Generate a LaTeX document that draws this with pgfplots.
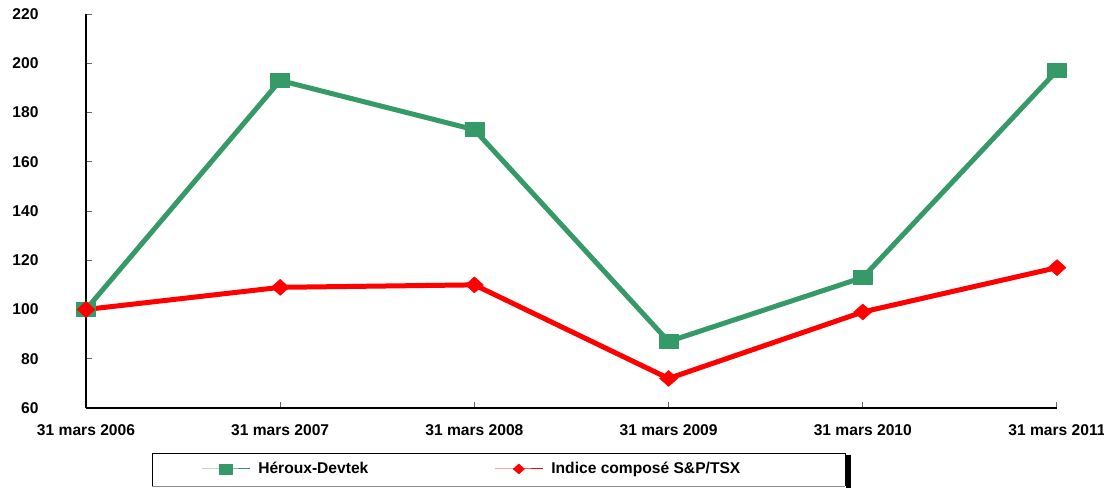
\documentclass[border=0pt]{standalone}
\usepackage{pgfplots}
\pgfplotsset{compat=1.18}
\usepackage{fontspec}
\setmainfont{Liberation Sans}
\definecolor{hgreen}{RGB}{53,153,104}
\begin{document}
\begin{tikzpicture}
\begin{axis}[
  name=main,
  at={(0pt,0pt)}, anchor=south west,
  scale only axis, width=971pt, height=394pt,
  xmin=0, xmax=5, ymin=60, ymax=220,
  axis lines=left, axis line style={-, line width=1.2pt, black},
  xtick={0,...,5},
  xticklabels={31 mars 2006,31 mars 2007,31 mars 2008,31 mars 2009,31 mars 2010,31 mars 2011},
  ytick={60,80,...,220},
  tick align=inside, major tick length=6pt,
  tick style={black!60, line width=1pt},
  ticklabel style={font=\fontsize{15.6}{19}\selectfont\bfseries},
  /pgf/number format/assume math mode=true,
  yticklabel style={xshift=-44pt},
  xticklabel style={yshift=-13pt},
  clip=false,
  legend columns=2,
  legend style={draw=none, fill=none, at={(rel axis cs:0.1185,-0.1548)}, anchor=west,
    font=\fontsize{15.6}{19}\selectfont\bfseries,
    /tikz/every odd column/.append style={column sep=6pt},
    /tikz/every even column/.append style={column sep=124pt}, inner sep=0pt},
  legend image code/.code={\draw[#1, line width=1pt, mark size=5pt, mark repeat=2, mark phase=2] plot coordinates {(0pt,0pt) (24pt,0pt) (48pt,0pt)};},
]
\addplot[hgreen, line width=5pt, line join=round, mark=square*, mark size=7pt,
  mark options={solid, fill=hgreen, draw=hgreen, line width=0.5pt, xscale=1.35}]
  coordinates {(0,100) (1,193) (2,173) (3,87) (4,113) (5,197)};
\addlegendentry{Héroux-Devtek}
\addplot[red, line width=5pt, line join=round, mark=diamond*, mark size=8pt,
  mark options={solid, fill=red, draw=red, line width=0.5pt, xscale=1.5}]
  coordinates {(0,100) (1,109) (2,110) (3,72) (4,99) (5,117)};
\addlegendentry{Indice composé S\&P/TSX}
\end{axis}
\draw[black, line width=1pt] (66pt,-78pt) -- (66pt,-45pt) -- (759pt,-45pt) -- (759pt,-78pt);
\draw[black!45, line width=1pt] (66pt,-78pt) -- (759pt,-78pt);
\fill[black] (760pt,-47pt) rectangle (765pt,-80pt);
\pgfresetboundingbox
\useasboundingbox (-86pt,-80pt) rectangle (1018pt,408pt);
\end{tikzpicture}
\end{document}
